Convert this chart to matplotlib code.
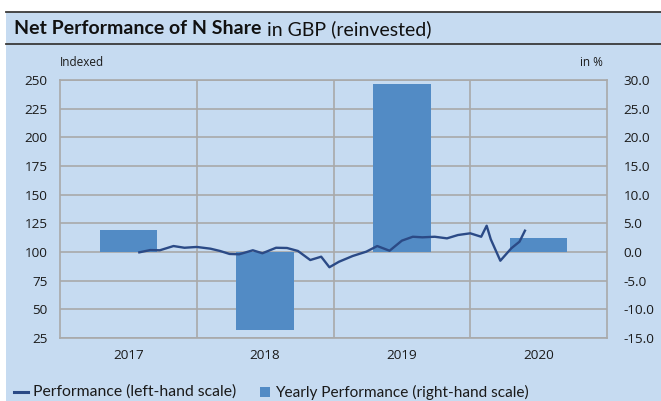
import numpy as np
import matplotlib
matplotlib.use("Agg")
import matplotlib.pyplot as plt
from matplotlib.patches import Rectangle
from matplotlib.lines import Line2D

# Yearly performance in % (right-hand scale)
years = [2017, 2018, 2019, 2020]
yearly_perf = [3.8, -13.6, 29.3, 2.5]

# Indexed performance (left-hand scale), dates as decimal years
perf_dates = [2017.58, 2017.66, 2017.73, 2017.83, 2017.91, 2018.00, 2018.10,
              2018.17, 2018.24, 2018.31, 2018.41, 2018.48, 2018.58, 2018.66,
              2018.74, 2018.83, 2018.91, 2018.97, 2019.04, 2019.14, 2019.24,
              2019.32, 2019.41, 2019.50, 2019.58, 2019.65, 2019.74, 2019.83,
              2019.91, 2020.00, 2020.08, 2020.12, 2020.15, 2020.22, 2020.30,
              2020.36, 2020.40]
perf_values = [99.7, 101.7, 101.5, 105.2, 103.7, 104.4, 102.9,
               100.9, 98.3, 98.0, 101.5, 98.9, 103.7, 103.5,
               100.9, 93.0, 95.9, 86.7, 91.5, 96.5, 100.3,
               105.2, 101.1, 109.9, 113.3, 112.8, 113.3, 111.9,
               114.8, 116.3, 113.3, 122.9, 111.1, 92.4, 103.2,
               109.0, 118.6]

left_ticks = [25, 50, 75, 100, 125, 150, 175, 200, 225, 250]
right_ticks = [-15, -10, -5, 0, 5, 10, 15, 20, 25, 30]

bg = "#C6DBF1"
bar_color = "#528BC5"
line_color = "#2B4A86"
grid_color = "#A9A9A9"

W, H = 661, 401
fig = plt.figure(figsize=(W / 100, H / 100), dpi=100, facecolor="white")

# blue panel and title separators
fig.patches.append(Rectangle((6 / W, 0), 1, (H - 12) / H, transform=fig.transFigure,
                             facecolor=bg, edgecolor="none", zorder=-10))
for yy in (12, 44):
    fig.lines.append(Line2D([6 / W, 1], [(H - yy) / H] * 2, transform=fig.transFigure,
                            color="#3A3A3A", lw=1.3))

rect = [60 / W, 63 / H, 547 / W, 258 / H]
ax2 = fig.add_axes(rect)   # bars, right-hand scale
ax = fig.add_axes(rect, sharex=ax2)  # line, left-hand scale
ax.set_zorder(ax2.get_zorder() + 1)
ax.patch.set_visible(False)
ax2.patch.set_visible(False)

# bars
ax2.bar([y + 0.5 for y in years], yearly_perf, width=0.42, color=bar_color, zorder=2)
ax2.set_ylim(-15, 30)
ax2.set_yticks(right_ticks)
ax2.set_yticklabels([f"{t:.1f}" for t in right_ticks])
ax2.yaxis.tick_right()
ax2.set_axisbelow(True)
ax2.grid(axis="y", color=grid_color, lw=1.2)
for y in years[1:]:
    ax2.axvline(y, color=grid_color, lw=1.2, zorder=0)

# line
ax.plot(perf_dates, perf_values, color=line_color, lw=1.7, zorder=3)
ax.set_ylim(25, 250)
ax.set_yticks(left_ticks)
ax.set_xlim(2017, 2021)
ax.set_xticks([y + 0.5 for y in years])
ax.set_xticklabels([str(y) for y in years])

for a in (ax, ax2):
    a.tick_params(length=0)
    for s in a.spines.values():
        s.set_visible(False)
for lab in ax.get_yticklabels() + ax2.get_yticklabels() + ax.get_xticklabels():
    lab.set_fontfamily("Open Sans")
    lab.set_fontsize(9.7)
    lab.set_color("#1A1A1A")
ax.tick_params(axis="y", pad=9)
ax2.tick_params(axis="y", pad=12)
ax.tick_params(axis="x", pad=8)
ax2.tick_params(axis="x", labelbottom=False)
for s in ("left", "right", "bottom", "top"):
    ax2.spines[s].set_visible(True)
    ax2.spines[s].set_color(grid_color)
    ax2.spines[s].set_linewidth(1.2)

# axis captions
fig.text(60 / W, 1 - 62 / H, "Indexed", family="Open Sans", size=8.5, va="center", color="#1A1A1A")
fig.text(580 / W, 1 - 62 / H, "in %", family="Open Sans", size=8.5, va="center", color="#1A1A1A")

# title
t1 = fig.text(14 / W, 1 - 29 / H, "Net Performance of N Share", family="Lato",
              weight="bold", size=14, va="center", color="#111111")
fig.canvas.draw()
bb = t1.get_window_extent()
fig.text(bb.x1 / W + 6 / W, 1 - 29 / H, "in GBP (reinvested)", family="Lato",
         size=14, va="center", color="#111111")

# legend
ly = 1 - 392 / H
fig.lines.append(Line2D([14 / W, 28 / W], [ly, ly], transform=fig.transFigure,
                        color=line_color, lw=2.2))
fig.text(33 / W, ly, "Performance (left-hand scale)", family="Lato", size=11.3,
         va="center", color="#1A1A1A")
fig.patches.append(Rectangle((260 / W, ly - 5 / H), 10 / W, 10 / H, transform=fig.transFigure,
                             facecolor=bar_color, edgecolor="none"))
fig.text(275 / W, ly, "Yearly Performance (right-hand scale)", family="Lato", size=11.1,
         va="center", color="#1A1A1A")

fig.savefig("out.png", dpi=100, facecolor="white")
